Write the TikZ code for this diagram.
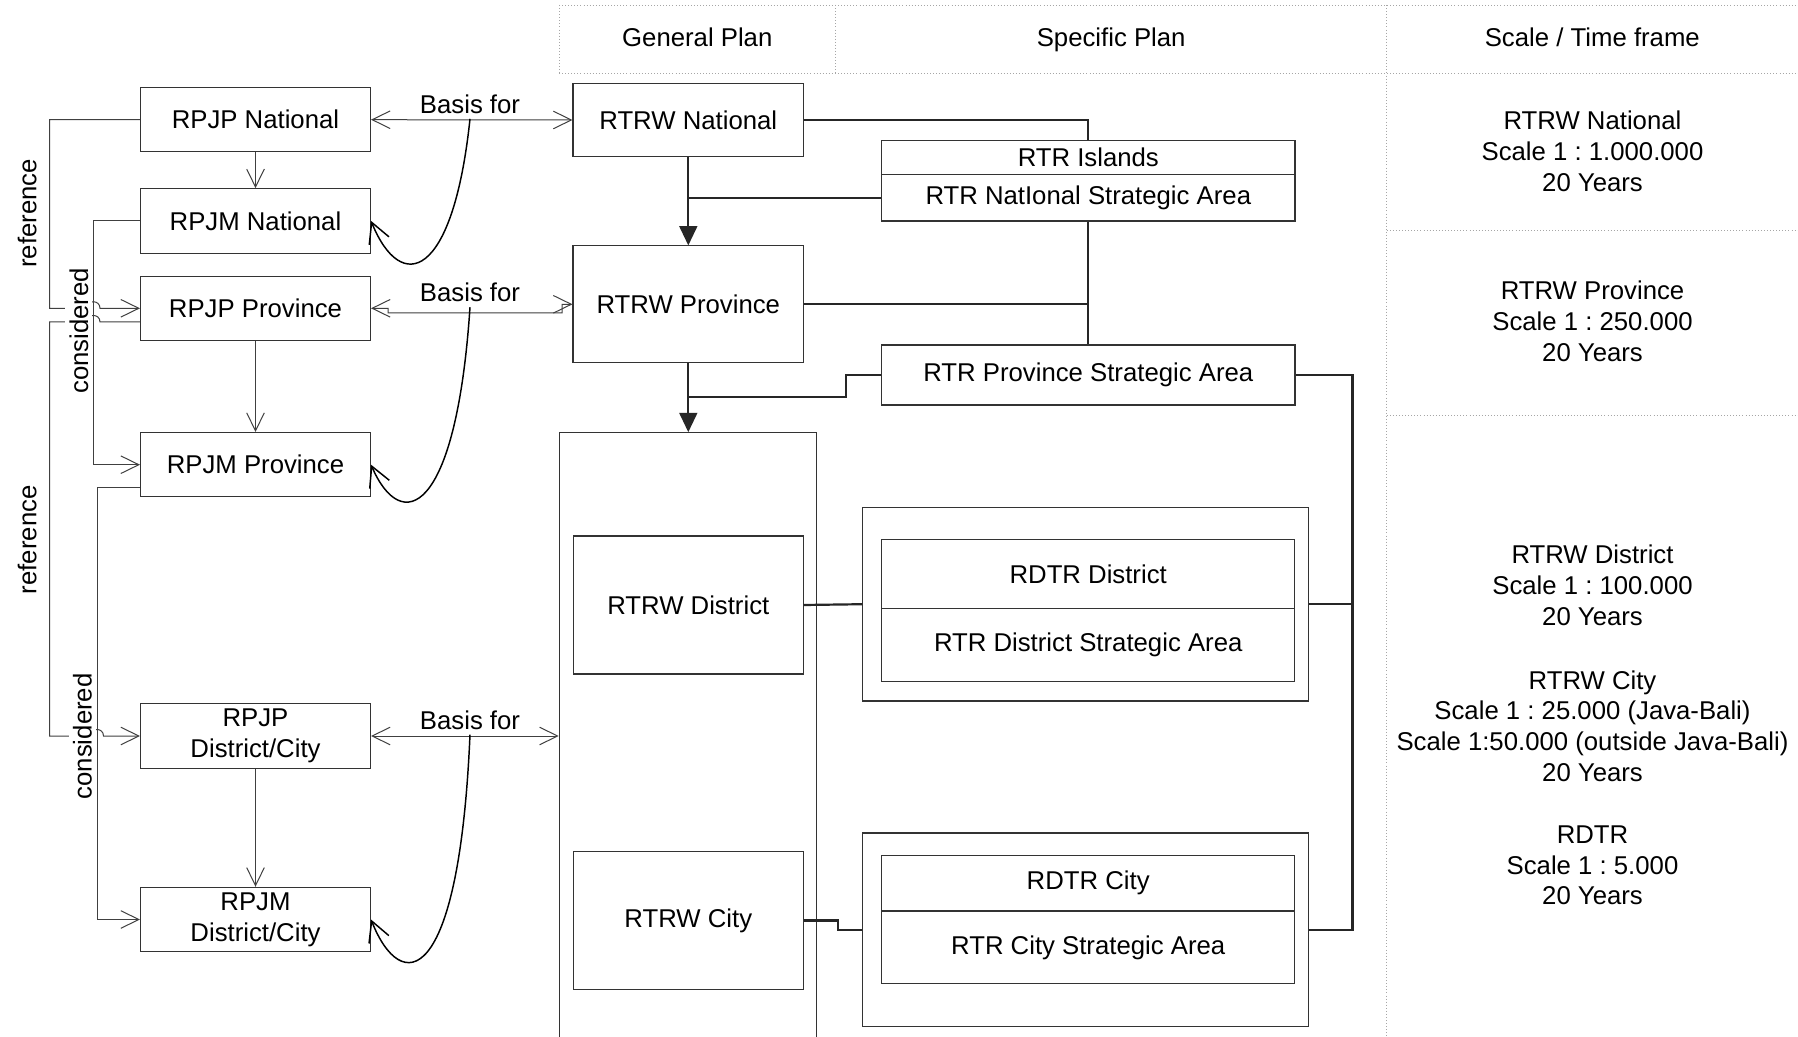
\documentclass[tikz,border=0pt]{standalone}
\usepackage{fontspec}
\setmainfont{Liberation Sans}
\usetikzlibrary{arrows.meta,calc}
\frenchspacing

\begin{document}
\begin{tikzpicture}[x=0.75pt,y=-0.75pt,
  lbl/.style={font=\fontsize{19.3}{23.1}\selectfont, text=black, inner sep=0pt},
  plan/.style={lbl, draw=black!80, line width=0.8pt, rectangle, align=center},
  wh/.style n args={2}{minimum width=#1*0.75pt, minimum height=#2*0.75pt},
  fine/.style={draw=black!75, line width=0.75pt},
  onetip/.style={-{Straight Barb[length=13.5pt,width=13.2pt]}},
  twoway/.style={{Straight Barb[length=13.5pt,width=13.2pt]}-{Straight Barb[length=13.5pt,width=13.2pt]}},
  swoop/.style={draw=black, line width=1.1pt, -{Straight Barb[length=15pt,width=16pt]}},
  link/.style={draw=black!85, line width=1.65pt},
  fillarrow/.style={-{Triangle[length=14.5pt,width=13.4pt]}},
  guide/.style={draw=black!35, line width=0.7pt, dash pattern=on 0.7pt off 1.6pt},
  side/.style={lbl, rotate=90, anchor=base},
]
\useasboundingbox (0,0) rectangle (1798,1037);
\fill[white] (0,0) rectangle (1798,1037);

% column headers and dotted grid
\draw[guide] (559,5) -- (1798,5);
\draw[guide] (559,73.3) -- (1798,73.3);
\draw[guide] (559,5) -- (559,73.3);
\draw[guide] (835.7,5) -- (835.7,73.3);
\draw[guide] (1386.7,5) -- (1386.7,1037);
\draw[guide] (1386.7,230) -- (1798,230);
\draw[guide] (1386.7,415) -- (1798,415);
\node[lbl, anchor=base] at (697.3,46.7) {General Plan};
\node[lbl, anchor=base] at (1111.2,46.7) {Specific Plan};
\node[lbl, anchor=base] at (1592.3,46.7) {Scale / Time frame};

% development plans
\node[plan, wh={230}{64.4}] (rpjpnat)  at (255.5,119.7) {RPJP National};
\node[plan, wh={230}{64.4}] (rpjmnat)  at (255.5,220.9) {RPJM National};
\node[plan, wh={230}{64.4}] (rpjpprov) at (255.5,308.3) {RPJP Province};
\node[plan, wh={230}{64.4}] (rpjmprov) at (255.5,464.7) {RPJM Province};
\node[plan, wh={230}{64.4}] (rpjpdc)   at (255.5,736)   {RPJP\\District/City};
\node[plan, wh={230}{64.4}] (rpjmdc)   at (255.5,919.5) {RPJM\\District/City};

% general spatial plans
\node[plan, wh={230.6}{73.4}]  (rtrwnat)  at (688.3,120)   {RTRW National};
\node[plan, wh={230.6}{116.7}] (rtrwprov) at (688.3,304.3) {RTRW Province};
\node[plan, wh={257.5}{612.3}] (genbox)   at (688,738.85)  {};
\node[plan, wh={229.5}{138}]   (rtrwdist) at (688.3,605)   {RTRW District};
\node[plan, wh={229.5}{137.8}] (rtrwcity) at (688.3,920.4) {RTRW City};

% specific spatial plans
\node[plan, wh={413.4}{34}]   (rtrisl) at (1088.3,157.7)  {RTR Islands};
\node[plan, wh={413.4}{46.3}] (rtrnsa) at (1088.3,197.85) {RTR NatIonal Strategic Area};
\node[plan, wh={413.4}{60}]   (rtrpsa) at (1088.3,375)    {RTR Province Strategic Area};
\node[plan, wh={445.6}{193.6}] (rdtrdist) at (1085.6,604.2) {};
\node[plan, wh={413.2}{68.9}]  (rdtrd)    at (1088.2,574.15) {RDTR District};
\node[plan, wh={413.2}{73.2}]  (rtrdsa)   at (1088.2,645.2) {RTR District Strategic Area};
\node[plan, wh={445.6}{193.7}] (rdtrcity) at (1085.6,929.85) {};
\node[plan, wh={413.2}{55.6}]  (rdtrc)    at (1088.2,883.2) {RDTR City};
\node[plan, wh={413.2}{72.8}]  (rtrcsa)   at (1088.2,947.4) {RTR City Strategic Area};

% scale and time frame
\node[lbl, anchor=north, align=center] at (1592.5,111)   {RTRW National\\Scale 1 : 1.000.000\\20 Years};
\node[lbl, anchor=north, align=center] at (1592.5,280.7) {RTRW Province\\Scale 1 : 250.000\\20 Years};
\node[lbl, anchor=north, align=center] at (1592.5,544.5) {RTRW District\\Scale 1 : 100.000\\20 Years};
\node[lbl, anchor=north, align=center] at (1592.5,670.2) {RTRW City\\Scale 1 : 25.000 (Java-Bali)\\Scale 1:50.000 (outside Java-Bali)\\20 Years};
\node[lbl, anchor=north, align=center] at (1592.5,825.3) {RDTR\\Scale 1 : 5.000\\20 Years};

% long term -> medium term
\draw[fine, onetip] (rpjpnat) -- (rpjmnat);
\draw[fine, onetip] (rpjpprov) -- (rpjmprov);
\draw[fine, onetip] (rpjpdc) -- (rpjmdc);

% basis for spatial plans
\draw[fine, twoway] (rpjpnat.east) -- (rtrwnat.west);
\draw[fine, twoway] (rpjpprov.east) -- ++(17,0) -- ++(0,4.7) -- (562,313) -- (562,304.3) -- (rtrwprov.west);
\draw[fine, twoway] (rpjpdc.east) -- (rpjpdc.east -| genbox.west);
\node[lbl, anchor=base] (lb1) at (470,113.3) {Basis for};
\node[lbl, anchor=base] (lb2) at (470,301.7) {Basis for};
\node[lbl, anchor=base] (lb3) at (470,729)   {Basis for};
\draw[swoop] ($(lb1.south)+(0,5)$) .. controls ($(rpjmnat.east)+(82,59)$) and ($(rpjmnat.east)+(30,74)$) .. (rpjmnat.east);
\draw[swoop] ($(lb2.south)+(0,5)$) .. controls ($(rpjmprov.east)+(85,52)$) and ($(rpjmprov.east)+(30,70)$) .. (rpjmprov.east);
\draw[swoop] ($(lb3.south)+(0,5)$) .. controls ($(rpjmdc.east)+(88,70)$) and ($(rpjmdc.east)+(30,76)$) .. (rpjmdc.east);

% reference lines
\draw[fine, onetip] (rpjpnat.west) -- (49.5,119.7) -- (49.5,308.3) -- (87,308.3)
  .. controls (87,299.6) and (100,299.6) .. (100,308.3) -- (rpjpprov.west);
\coordinate (r2s) at ($(rpjpprov.west)+(0,13.7)$);
\draw[fine, onetip] (r2s) -- (100,322) .. controls (100,313.3) and (87,313.3) .. (87,322)
  -- (49.5,322) -- (49.5,736) -- (90.5,736)
  .. controls (90.5,727.3) and (103.5,727.3) .. (103.5,736) -- (rpjpdc.west);

% considered lines
\draw[fine, onetip] (rpjmnat.west) -- (93.5,220.9) -- (93.5,464.7) -- (rpjmprov.west);
\coordinate (c2s) at ($(rpjmprov.west)+(0,23)$);
\draw[fine, onetip] (c2s) -- (97,487.7) -- (97,919.5) -- (rpjmdc.west);

\node[side] at (36.4,213.3) {reference};
\node[side] at (36.4,539.8) {reference};
\node[side, fill=white, inner ysep=3pt] at (88,330.8) {considered};
\node[side, fill=white, inner ysep=3pt] at (91.5,736.4) {considered};

% spatial plan hierarchy
\draw[link] (rtrwnat.east) -| (rtrisl.north);
\draw[link, fillarrow] (rtrwnat.south) -- (rtrwprov.north);
\draw[link] (rtrnsa.west) -- (rtrnsa.west -| rtrwnat.south);
\draw[link, line width=1.3pt] (rtrnsa.south) -- (rtrpsa.north);
\draw[link] (rtrwprov.east) -- (rtrwprov.east -| rtrpsa.north);
\draw[link, fillarrow] (rtrwprov.south) -- (rtrwprov.south |- genbox.north);
\coordinate (k1) at (846,397.3);
\draw[link] (rtrpsa.west) -| (k1) -- (k1 -| rtrwprov.south);
\coordinate (k2) at (1352.5,375);
\draw[link] (rtrpsa.east) -- (k2) |- (rdtrcity.east);
\draw[link] (rdtrdist.east) -- (rdtrdist.east -| k2);
\draw[link] (rtrwdist.east) -- (rdtrdist.west);
\coordinate (k3) at (837.7,920.4);
\draw[link] (rtrwcity.east) -- (k3) |- (rdtrcity.west);
\end{tikzpicture}
\end{document}
